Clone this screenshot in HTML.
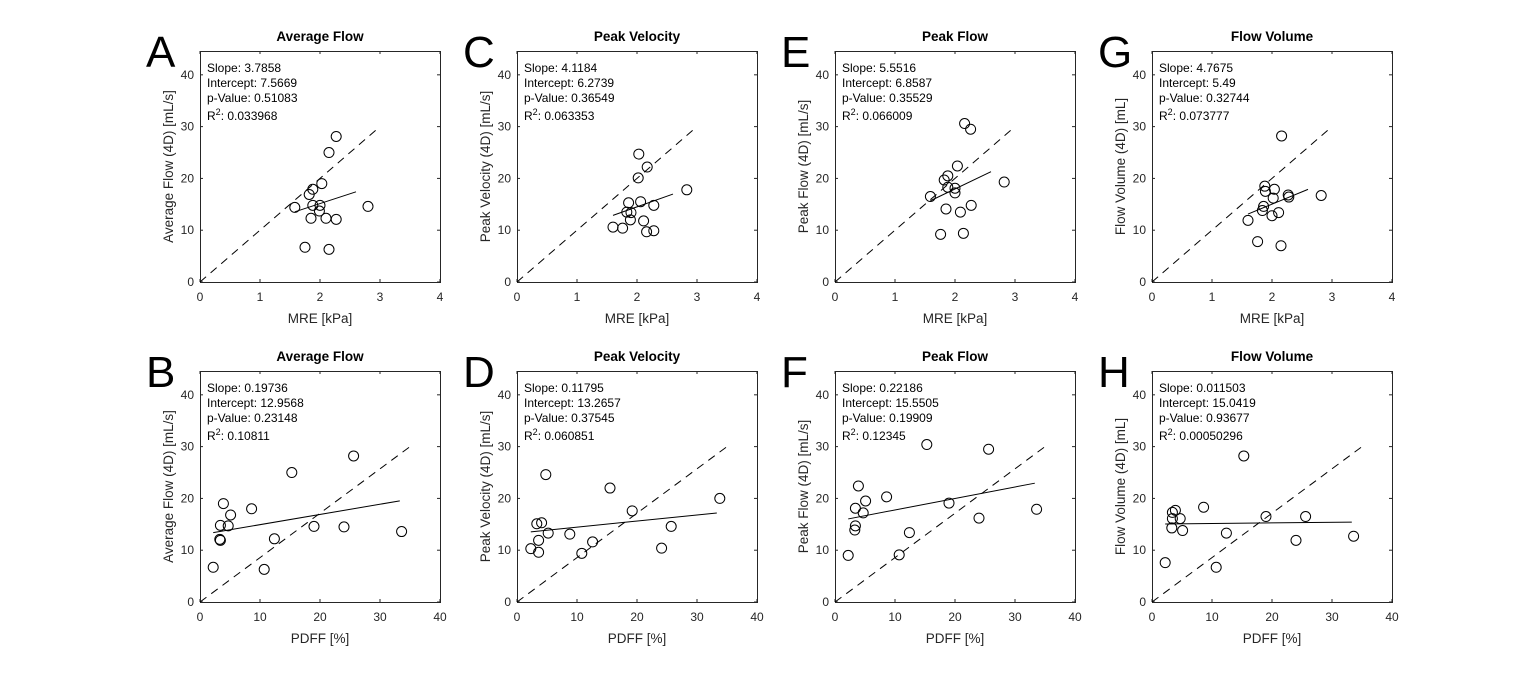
<!DOCTYPE html>
<html><head><meta charset="utf-8">
<style>
html,body{margin:0;padding:0;background:#fff;}
svg{display:block;font-family:"Liberation Sans",Arial,sans-serif;}
</style></head>
<body>
<svg id="fig" width="1540" height="676" viewBox="0 0 1540 676" xmlns="http://www.w3.org/2000/svg"></svg>
<script>
// ---- data ----
const mreA = [2.27,2.15,2.03,1.88,1.82,1.58,1.88,2.0,1.99,1.85,2.1,2.27,2.80,1.75,2.15];
const flowA = [28.1,25.0,19.0,17.9,16.9,14.4,14.8,14.8,13.7,12.3,12.3,12.1,14.6,6.7,6.3];
const mreC = [2.03,2.17,2.02,2.83,1.86,2.06,2.28,1.83,1.90,1.89,2.11,1.60,1.76,2.16,2.28];
const velC = [24.7,22.2,20.1,17.8,15.3,15.5,14.8,13.5,13.4,12.0,11.8,10.6,10.4,9.7,9.9];
const mreE = [2.16,2.26,2.04,1.88,1.82,2.82,1.88,2.0,2.0,1.59,2.27,1.85,2.09,1.76,2.14];
const peakE = [30.6,29.5,22.4,20.5,19.7,19.3,18.3,18.1,17.2,16.5,14.8,14.1,13.5,9.2,9.4];
const mreG = [2.16,1.88,1.89,2.04,2.02,2.27,2.28,2.82,1.86,1.84,2.11,2.0,1.60,1.76,2.15];
const volG = [28.2,18.5,17.5,17.9,16.2,16.8,16.4,16.7,14.6,13.8,13.4,12.8,11.9,7.8,7.0];
const pdffB = [25.6,15.3,3.9,8.6,5.1,3.4,4.7,19.0,24.0,33.6,3.3,3.4,12.4,2.2,10.7];
const flowB = [28.2,25.0,19.0,18.0,16.8,14.8,14.7,14.6,14.5,13.6,12.1,11.9,12.2,6.7,6.3];
const pdffD = [4.8,15.5,33.8,19.2,3.3,4.1,25.7,5.2,8.8,3.6,12.6,2.3,24.1,3.6,10.8];
const velD = [24.6,22.0,20.0,17.6,15.1,15.3,14.6,13.3,13.1,11.9,11.6,10.3,10.4,9.6,9.4];
const pdffF = [15.3,25.6,3.9,8.6,5.1,3.4,4.7,19.0,24.0,33.6,3.4,3.3,12.4,2.2,10.7];
const peakF = [30.4,29.5,22.4,20.3,19.5,18.1,17.2,19.1,16.2,17.9,14.7,13.9,13.4,9.0,9.1];
const pdffH = [15.3,8.6,3.9,3.4,3.4,4.7,19.0,25.6,3.3,5.1,12.4,24.0,33.6,2.2,10.7];
const volH = [28.2,18.3,17.7,17.3,16.1,16.1,16.5,16.5,14.3,13.8,13.3,11.9,12.7,7.6,6.7];
const xTicksTop = [0,1,2,3,4];
const xTicksBottom = [0,10,20,30,40];
const yTicks = [0,10,20,30,40];
const slopes = ["3.7858","4.1184","5.5516","4.7675","0.19736","0.11795","0.22186","0.011503"];
const intercepts = ["7.5669","6.2739","6.8587","5.49","12.9568","13.2657","15.5505","15.0419"];
const pvalues = ["0.51083","0.36549","0.35529","0.32744","0.23148","0.37545","0.19909","0.93677"];
const r2s = ["0.033968","0.063353","0.066009","0.073777","0.10811","0.060851","0.12345","0.00050296"];

const NS="http://www.w3.org/2000/svg";
const svg=document.getElementById('fig');
function mk(tag,attrs,parent){const e=document.createElementNS(NS,tag);for(const k in attrs)e.setAttribute(k,attrs[k]);(parent||svg).appendChild(e);return e;}

const panels=[
 {L:'A',title:'Average Flow',yl:'Average Flow (4D) [mL/s]',x:mreA,y:flowA,top:true,px:200,py:51,i:0},
 {L:'C',title:'Peak Velocity',yl:'Peak Velocity (4D) [mL/s]',x:mreC,y:velC,top:true,px:517,py:51,i:1},
 {L:'E',title:'Peak Flow',yl:'Peak Flow (4D) [mL/s]',x:mreE,y:peakE,top:true,px:835,py:51,i:2},
 {L:'G',title:'Flow Volume',yl:'Flow Volume (4D) [mL]',x:mreG,y:volG,top:true,px:1152,py:51,i:3},
 {L:'B',title:'Average Flow',yl:'Average Flow (4D) [mL/s]',x:pdffB,y:flowB,top:false,px:200,py:371,i:4},
 {L:'D',title:'Peak Velocity',yl:'Peak Velocity (4D) [mL/s]',x:pdffD,y:velD,top:false,px:517,py:371,i:5},
 {L:'F',title:'Peak Flow',yl:'Peak Flow (4D) [mL/s]',x:pdffF,y:peakF,top:false,px:835,py:371,i:6},
 {L:'H',title:'Flow Volume',yl:'Flow Volume (4D) [mL]',x:pdffH,y:volH,top:false,px:1152,py:371,i:7}
];
const W=240,H=231,YMAX=44.6;
panels.forEach(p=>{
  const g=mk('g',{});
  
  
  const xmax=p.top?4:40;
  const sx=v=>p.px+v/xmax*W;
  const sy=v=>p.py+H-v/YMAX*H;
  const box=mk('rect',{x:p.px+0.5,y:p.py+0.5,width:W,height:H,fill:'#fff',stroke:'#262626','stroke-width':1},g);
  
  
  const xt=p.top?xTicksTop:xTicksBottom;
  xt.forEach(t=>{
    mk('line',{x1:sx(t),x2:sx(t),y1:p.py+H,y2:p.py+H-3,stroke:'#262626'},g);
    mk('line',{x1:sx(t),x2:sx(t),y1:p.py,y2:p.py+3,stroke:'#262626'},g);
    const tx=mk('text',{x:sx(t),y:p.py+H+19,'font-size':12,'text-anchor':'middle',fill:'#262626'},g);
    tx.textContent=t;
    
    
  });
  yTicks.forEach(t=>{
    mk('line',{x1:p.px,x2:p.px+3,y1:sy(t),y2:sy(t),stroke:'#262626'},g);
    mk('line',{x1:p.px+W,x2:p.px+W-3,y1:sy(t),y2:sy(t),stroke:'#262626'},g);
    const ty=mk('text',{x:p.px-6,y:sy(t)+4,'font-size':12,'text-anchor':'end',fill:'#262626'},g);
    ty.textContent=t;
    
    
  });
  const dx=p.top?3:35, dy=30;
  const ref=mk('line',{x1:sx(0),y1:sy(0),x2:sx(dx),y2:sy(dy),stroke:'#000','stroke-dasharray':'8,6','stroke-width':1},g);
  
  
  const s=parseFloat(slopes[p.i]), b=parseFloat(intercepts[p.i]);
  const x0=Math.min(...p.x), x1=p.top?2.6:33.3;
  const fit=mk('line',{x1:sx(x0),y1:sy(s*x0+b),x2:sx(x1),y2:sy(s*x1+b),stroke:'#000','stroke-width':1},g);
  
  
  p.x.forEach((v,k)=>{
    const c=mk('circle',{cx:sx(v),cy:sy(p.y[k]),r:5,fill:'none',stroke:'#000','stroke-width':1},g);
    
    
  });
  const lines=['Slope: '+slopes[p.i],'Intercept: '+intercepts[p.i],'p-Value: '+pvalues[p.i]];
  lines.forEach((l,k)=>{
    const t=mk('text',{x:p.px+7,y:p.py+21+k*15,'font-size':12,fill:'#000'},g);
    t.textContent=l;
    
    
  });
  const r=mk('text',{x:p.px+7,y:p.py+69,'font-size':12,fill:'#000'},g);
  r.innerHTML='R<tspan dy="-5" font-size="9">2</tspan><tspan dy="5">: '+r2s[p.i]+'</tspan>';
  
  
  const ti=mk('text',{x:p.px+W/2,y:p.py-10,'font-size':13.5,'font-weight':'bold','text-anchor':'middle',fill:'#000'},g);
  ti.textContent=p.title;
  
  
  const xl=mk('text',{x:p.px+W/2,y:p.py+H+41,'font-size':13.5,'text-anchor':'middle',fill:'#262626'},g);
  xl.textContent=p.top?'MRE [kPa]':'PDFF [%]';
  
  
  const cy=p.py+H/2;
  const lx=p.px-27;
  const yl=mk('text',{x:lx,y:cy,'font-size':13.5,'text-anchor':'middle',fill:'#262626',transform:'rotate(-90 '+lx+' '+cy+')'},g);
  yl.textContent=p.yl;
  
  
  const lt=mk('text',{x:p.px-54,y:p.py+16,'font-size':44,'text-anchor':'start',fill:'#000'},g);
  lt.textContent=p.L;
  
  
});
</script>
</body></html>
